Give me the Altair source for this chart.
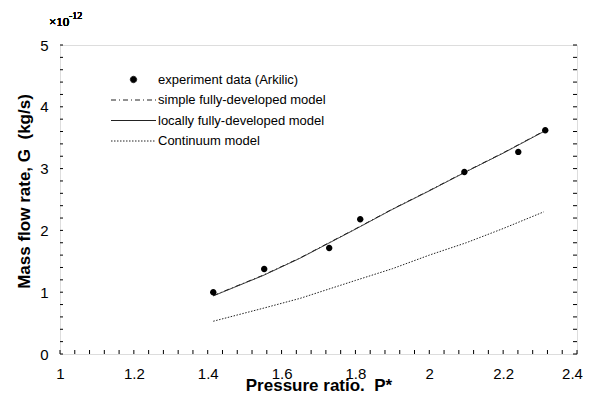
import altair as alt
import pandas as pd

# ---- data (G in units of 1e-12 kg/s) ----
series = ["experiment data (Arkilic)", "simple fully-developed model",
          "locally fully-developed model", "Continuum model"]

exp_p = [1.415, 1.553, 1.729, 1.813, 2.095, 2.241, 2.314]
exp_g = [1.00, 1.375, 1.715, 2.18, 2.945, 3.27, 3.62]

model_p = [1.415, 1.55, 1.65, 1.80, 1.90, 2.00, 2.10, 2.20, 2.31]
simple_g = [0.945, 1.275, 1.555, 2.025, 2.345, 2.645, 2.955, 3.255, 3.605]
local_g = [0.94, 1.27, 1.55, 2.02, 2.34, 2.64, 2.95, 3.25, 3.60]
cont_g = [0.53, 0.74, 0.90, 1.19, 1.38, 1.60, 1.80, 2.03, 2.30]

x_major = [1.0, 1.2, 1.4, 1.6, 1.8, 2.0, 2.2, 2.4]
x_minor = [round(1 + 0.04 * i, 2) for i in range(36)]
y_major = [0, 1, 2, 3, 4, 5]
y_minor = [round(0.2 * i, 1) for i in range(26)]

W, H = 517, 309
NB = "\u00a0"

exp_df = pd.DataFrame({"p": exp_p, "g": exp_g, "series": series[0]})
simple_df = pd.DataFrame({"p": model_p, "g": simple_g, "series": series[1]})
local_df = pd.DataFrame({"p": model_p, "g": local_g, "series": series[2]})
cont_df = pd.DataFrame({"p": model_p, "g": cont_g, "series": series[3]})
xt_df = pd.DataFrame({"p": x_minor})
yt_df = pd.DataFrame({"g": y_minor})

FONT = "Liberation Sans"
xscale = alt.Scale(domain=[1, 2.4], nice=False, zero=False)
yscale = alt.Scale(domain=[0, 5], nice=False, zero=False)

xaxis = alt.Axis(
    orient="bottom", values=x_major, format="~g", title="Pressure ratio." + NB + " P*",
    ticks=False, domain=False, grid=False, labelPadding=12,
    labelOffset={"expr": "datum.value >= 2.39 ? -5 : 0"},
    labelFont=FONT, labelFontSize=15, labelColor="black",
    titleFont=FONT, titleFontSize=17, titleFontWeight="bold", titleColor="black",
    titleBaseline="alphabetic", titleY=36, labelFlush=False)
yaxis = alt.Axis(
    orient="left", values=y_major, format="~g", title="Mass flow rate, G" + NB + " (kg/s)",
    ticks=False, domain=False, grid=False, labelPadding=12,
    labelFont=FONT, labelFontSize=15, labelColor="black",
    titleFont=FONT, titleFontSize=17, titleFontWeight="bold", titleColor="black",
    titleX=-27, titleY=146, labelFlush=False)

# legend symbols: size 400 -> path unit = 10 px
CIRCLE = "M-0.32,0A0.32,0.32,0,1,0,0.32,0A0.32,0.32,0,1,0,-0.32,0Z"
STROKE = "M-2.25,0H2.25"
shape_scale = alt.Scale(domain=series, range=[CIRCLE, STROKE, STROKE, STROKE])
dash_scale = alt.Scale(domain=series, range=[[1, 0], [5, 3, 1, 3], [1, 0], [1.5, 1.5]])

legend = alt.Legend(
    title=None, orient="none", legendX=63, legendY=24,
    labelFont=FONT, labelFontSize=13, labelColor="black", labelLimit=400,
    symbolSize=400, symbolStrokeColor="#222", symbolFillColor="black",
    symbolStrokeWidth=1, rowPadding=2.5, labelOffset=14,
)

X = alt.X("p:Q", scale=xscale, axis=xaxis)
Y = alt.Y("g:Q", scale=yscale, axis=yaxis)

points = alt.Chart(exp_df).mark_point(filled=True, color="black", size=400, opacity=1).encode(
    x=X, y=Y,
    shape=alt.Shape("series:N", scale=shape_scale, legend=legend),
)


def model_line(df):
    return alt.Chart(df).mark_line(color="#222", strokeWidth=1).encode(
        x=X, y=Y,
        strokeDash=alt.StrokeDash("series:N", scale=dash_scale),
    )


line_simple = model_line(simple_df)
line_local = model_line(local_df)
line_cont = model_line(cont_df)

# inward ticks on bottom, left and right frame edges
ticks_bottom = alt.Chart(xt_df).mark_rule(color="black", strokeWidth=1).encode(
    x=X, y=alt.value(H - 4), y2=alt.value(H),
)
ticks_left = alt.Chart(yt_df).mark_rule(color="black", strokeWidth=1).encode(
    y=Y, x=alt.value(0), x2=alt.value(3),
)
ticks_right = alt.Chart(yt_df).mark_rule(color="black", strokeWidth=1).encode(
    y=Y, x=alt.value(W - 4), x2=alt.value(W),
)

exp_label = alt.Chart(exp_df).mark_text(
    text="×10", font="Liberation Serif", fontSize=13, align="left", baseline="alphabetic",
    color="black").encode(x=alt.value(-11), y=alt.value(-19))
exp_sup = alt.Chart(exp_df).mark_text(
    text="-12", font="Liberation Serif", fontSize=10, align="left", baseline="alphabetic",
    color="black").encode(x=alt.value(9), y=alt.value(-26))

chart = alt.layer(
    ticks_bottom, ticks_left, ticks_right,
    line_simple, line_local, line_cont, points, exp_label, exp_sup
).properties(
    width=W, height=H,
    autosize=alt.AutoSizeParams(type="none"),
    padding={"left": 52, "top": 37, "right": 6, "bottom": 40},
).configure_view(stroke="black", strokeWidth=1).configure(background="white")

chart.save("out.html", embed_options={"renderer": "svg", "actions": False})
